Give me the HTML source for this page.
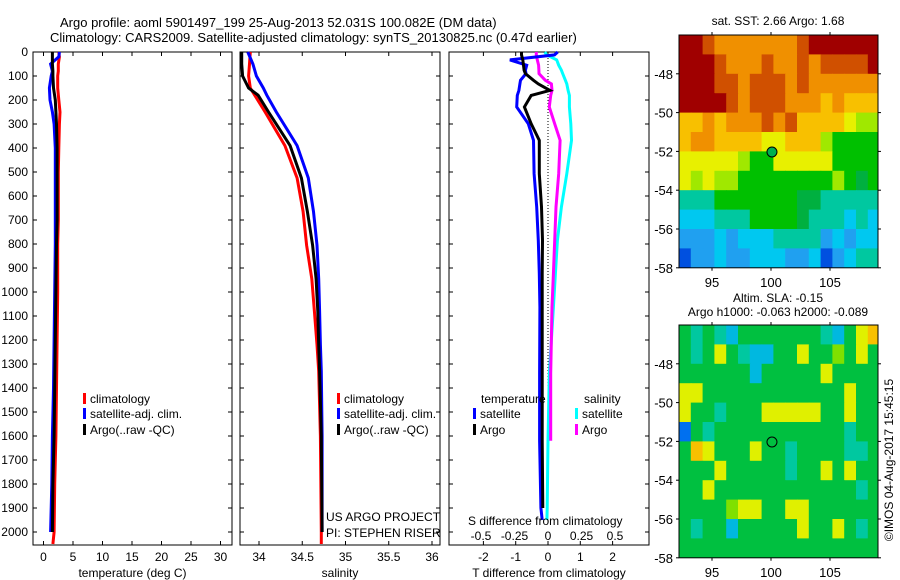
<!DOCTYPE html>
<html><head><meta charset="utf-8"><style>
html,body{margin:0;padding:0;background:#fff;}
svg{display:block;font-family:"Liberation Sans",sans-serif;}
text{font-size:12px;fill:#000;}
</style></head><body>
<svg id="c" width="900" height="580" viewBox="0 0 900 580">
<text x="60" y="27" style="font-size:13px">Argo profile: aoml 5901497_199 25-Aug-2013 52.031S 100.082E (DM data)</text>
<text x="50" y="42" style="font-size:13px">Climatology: CARS2009. Satellite-adjusted climatology: synTS_20130825.nc (0.47d earlier)</text>
<text x="778" y="25" text-anchor="middle">sat. SST: 2.66 Argo: 1.68</text>
<text x="778" y="302" text-anchor="middle">Altim. SLA: -0.15</text>
<text x="778" y="316" text-anchor="middle">Argo h1000: -0.063 h2000: -0.089</text>
<text transform="translate(893,460) rotate(-90)" text-anchor="middle">©IMOS 04-Aug-2017 15:45:15</text>
<text x="326" y="521">US ARGO PROJECT</text>
<text x="326" y="537">PI: STEPHEN RISER</text>
</svg>
<script>
// ---- profile data ----
const depths=[0,20,50,80,100,150,200,250,300,400,500,600,700,800,1000,1200,1400,1600,1800,2000,2050];
const tempClim=[2.6,2.7,2.5,2.5,2.4,2.4,2.6,2.8,2.7,2.6,2.5,2.5,2.5,2.4,2.4,2.3,2.2,2.1,1.9,1.8,1.6];
const tempSat=[2.7,2.6,1.2,1.5,1.3,1.0,1.1,1.5,1.8,2.0,2.0,2.0,2.0,2.0,1.9,1.8,1.7,1.5,1.4,1.2,null];
const tempArgo=[1.5,1.5,1.5,1.6,1.6,1.7,2.0,2.1,2.2,2.3,2.3,2.3,2.3,2.2,2.1,2.0,1.9,1.8,1.6,1.5,null];
const salDepths=[0,50,100,150,180,250,390,525,665,805,945,1080,1220,1330,1600,2000,2050];
const salClim=[33.9,33.89,33.88,33.9,33.95,34.07,34.30,34.44,34.51,34.55,34.61,34.64,34.67,34.69,34.71,34.72,34.72];
const salSat=[33.87,33.93,33.97,34.05,34.09,34.20,34.44,34.57,34.63,34.67,34.69,34.70,34.71,34.72,34.73,34.73,null];
const salArgo=[33.80,33.80,33.81,33.88,33.99,34.11,34.36,34.49,34.56,34.62,34.66,34.68,34.69,34.70,34.72,34.73,null];
const diffDepths=[0,12,33,55,76,90,118,133,160,181,229,299,368,507,646,785,924,1063,1340,1620,1900,1950];
const dTSat=[0.3,0.2,-1.18,-0.66,-0.7,-0.68,-0.85,-0.87,-0.9,-0.95,-0.97,-0.61,-0.45,-0.43,-0.35,-0.30,-0.27,-0.25,-0.26,-0.26,-0.22,-0.18];
const dTArgo=[-0.82,-0.82,-0.78,-0.76,-0.74,-0.7,-0.45,-0.3,0.06,-0.52,-0.73,-0.52,-0.27,-0.27,-0.2,-0.17,-0.18,-0.18,-0.18,-0.18,-0.16,null];
const dSArgo=[-0.087,-0.087,-0.08,-0.07,-0.068,-0.067,-0.02,0.025,0.03,0.02,0.01,0.05,0.09,0.08,0.06,0.05,0.04,0.03,0.02,0.02,null,null];
const dSSat=[-0.024,-0.01,0.065,0.08,0.1,0.11,0.13,0.14,0.15,0.16,0.16,0.17,0.175,0.14,0.1,0.07,0.055,0.04,0.01,0.0,-0.006,-0.008];
const depthTicks=[0,100,200,300,400,500,600,700,800,900,1000,1100,1200,1300,1400,1500,1600,1700,1800,1900,2000];
const tempTicks=[0,5,10,15,20,25,30];
const salTicks=[34,34.5,35,35.5,36];
const dTTicks=[-2,-1,0,1,2];
const dSTicks=[-0.5,-0.25,0,0.25,0.5];
// ---- map data (rows lat -46..-58, cols lon 92.2..) ----
const sstRows=["00122222221000000","00012221221211110","00011211121222222","00001211122232333","33232221213333455","32233334433356666","44444566444446666","45455666666665676","88866666667788888","99988866667888989","AAA9A9998888A9A99","BAA9AA999AA9BA988"];
const slaRows=["GTGTCGGGGGGGTCGYO","GTGYGTCCGGYGGLGYG","GGGGGGCGGGGGYGGGG","YYGGGGGGGGGGGGYGG","YGGTGGGYYYYYGGYGG","BGTGGGGGGGGGGGTGG","GOYGGGYGGTGGGGTTG","GGGYGGGGGTGGYGYGG","GGYGGGGGGGGGGGGTG","GGGGLYYGGYYGGGGGG","GTGGCGGGGGYGGYGTG","GGGGGGGGGGGGGGGGG"];
const latTicks=[-48,-50,-52,-54,-56,-58];
const lonTicks=[95,100,105];
const argoLon=100.082, argoLat=-52.031;

const S=document.getElementById('c'),NS='http://www.w3.org/2000/svg';
function mk(t,a,p){const e=document.createElementNS(NS,t);for(const k in a)e.setAttribute(k,a[k]);(p||S).appendChild(e);return e;}
const Y0=52,Y1=545,dy=d=>Y0+d*0.24;
const tx=v=>43.5+v*5.9, sx=v=>259+(v-34)*86.5, dtx=v=>548+v*32.3, dsx=v=>548+v*134;
function line(ds,vs,f,col,name){let p='';ds.forEach((d,i)=>{if(vs[i]==null)return;p+=(p?'L':'M')+f(vs[i]).toFixed(1)+','+dy(d).toFixed(1);});
 const e=mk('path',{d:p,fill:'none',stroke:col,'stroke-width':3});
 
 }
function panel(x0,x1,name,xt,xf,xlab,ylabels){
 const r=mk('rect',{x:x0,y:Y0,width:x1-x0,height:Y1-Y0,fill:'none',stroke:'#000','stroke-width':1});
 
 
 depthTicks.forEach(d=>{mk('line',{x1:x0,x2:x0+4,y1:dy(d),y2:dy(d),stroke:'#000'});mk('line',{x1:x1,x2:x1-4,y1:dy(d),y2:dy(d),stroke:'#000'});
  if(ylabels){const t=mk('text',{x:28,y:dy(d)+4,'text-anchor':'end'});t.textContent=d;
   
   }});
 xt.forEach(v=>{const x=xf(v);mk('line',{x1:x,x2:x,y1:Y1,y2:Y1-4,stroke:'#000'});mk('line',{x1:x,x2:x,y1:Y0,y2:Y0+4,stroke:'#000'});
  const t=mk('text',{x:x,y:561,'text-anchor':'middle'});t.textContent=v;
  
  });
 const t=mk('text',{x:(x0+x1)/2,y:577,'text-anchor':'middle'});t.textContent=xlab;
 
 
}
panel(33,232,'temperature-panel',tempTicks,tx,'temperature (deg C)',true);
panel(240,440,'salinity-panel',salTicks,sx,'salinity',false);
panel(449,649,'difference-panel',dTTicks,dtx,'T difference from climatology',false);
const dot=mk('line',{x1:548,x2:548,y1:Y0,y2:dy(1400),stroke:'#000','stroke-dasharray':'1,2'});


line(depths,tempClim,tx,'#f00','temp-climatology-line');
line(depths,tempSat,tx,'#00f','temp-satellite-line');
line(depths,tempArgo,tx,'#000','temp-argo-line');
line(salDepths,salClim,sx,'#f00','sal-climatology-line');
line(salDepths,salSat,sx,'#00f','sal-satellite-line');
line(salDepths,salArgo,sx,'#000','sal-argo-line');
line(diffDepths,dSSat,dsx,'#0ff','s-diff-satellite-line');
line(diffDepths,dSArgo,dsx,'#f0f','s-diff-argo-line');
line(diffDepths,dTSat,dtx,'#00f','t-diff-satellite-line');
line(diffDepths,dTArgo,dtx,'#000','t-diff-argo-line');
dSTicks.forEach(v=>{const t=mk('text',{x:dsx(v),y:540,'text-anchor':'middle'});t.textContent=v==0?'0':String(v).replace('0.','0.').replace('-0.','-0.');
 
 });
{const t=mk('text',{x:468,y:525});t.textContent='S difference from climatology';
 
 }
function leg(x,y,col,txt,name){mk('rect',{x:x,y:y-10,width:3,height:11,fill:col});const t=mk('text',{x:x+7,y:y});t.textContent=txt;
 
 }
[[83,'temp'],[337,'sal']].forEach(([x,n])=>{leg(x,403,'#f00','climatology',n+'-legend-climatology');leg(x,418,'#00f','satellite-adj. clim.',n+'-legend-satellite');leg(x,434,'#000','Argo(..raw -QC)',n+'-legend-argo');});
{const t=mk('text',{x:481,y:403});t.textContent='temperature';
 const u=mk('text',{x:584,y:403});u.textContent='salinity';}
leg(473,418,'#00f','satellite','diff-legend-t-satellite');leg(473,434,'#000','Argo','diff-legend-t-argo');
leg(575,418,'#0ff','satellite','diff-legend-s-satellite');leg(575,434,'#f0f','Argo','diff-legend-s-argo');
// ---- maps ----
const LX0=679,LX1=878,lonS=11.8,latS=19.4;
const lonx=l=>712+(l-95)*lonS;
const sstCol={'0':'#a00000','1':'#d05000','2':'#f09000','3':'#f8c000','4':'#e8f000','5':'#a0e800','6':'#00c000','7':'#00b040','8':'#00c8a0','9':'#00c8f0','A':'#20a0f0','B':'#0050e0','C':'#0020a0'};
const slaCol={'G':'#00c040','L':'#80e000','Y':'#e0f000','O':'#f8c000','T':'#00c8a0','C':'#00b8e0','B':'#0070f0'};
function map(yTop,rows,cm,name){const laty=l=>yTop+(-46-l)*latS;const yb=laty(-58);
 const g=mk('g',{});
 const cp=mk('clipPath',{id:name+'-clip'},g);mk('rect',{x:LX0,y:yTop,width:LX1-LX0,height:yb-yTop},cp);
 const cg=mk('g',{'clip-path':'url(#'+name+'-clip)'},g);
 rows.forEach((r,i)=>{for(let j=0;j<r.length;j++){const lon=92.2+j,lat=-46-i;const x=lonx(lon),y=laty(lat);
  const c=mk('rect',{x:x.toFixed(1),y:y.toFixed(1),width:lonS+0.6,height:latS+0.6,fill:cm[r[j]]},cg);
  
  }});
 mk('rect',{x:LX0,y:yTop,width:LX1-LX0,height:yb-yTop,fill:'none',stroke:'#000'},g);
 latTicks.forEach(l=>{const y=laty(l);mk('line',{x1:LX0,x2:LX0-3,y1:y,y2:y,stroke:'#000'},g);mk('line',{x1:LX1,x2:LX1+3,y1:y,y2:y,stroke:'#000'},g);
  const t=mk('text',{x:673,y:y+5,'text-anchor':'end',style:'font-size:13px'},g);t.textContent=l;});
 lonTicks.forEach(l=>{const x=lonx(l);mk('line',{x1:x,x2:x,y1:yTop,y2:yTop-3,stroke:'#000'},g);mk('line',{x1:x,x2:x,y1:yb,y2:yb+3,stroke:'#000'},g);
  const t=mk('text',{x:x,y:yb+19,'text-anchor':'middle',style:'font-size:13px'},g);t.textContent=l;});
 const m=mk('circle',{cx:lonx(argoLon),cy:laty(argoLat),r:5,fill:name=='sst-map'?'#00b050':'none',stroke:'#000'},g);
 
 
}
map(35,sstRows,sstCol,'sst-map');
map(325,slaRows,slaCol,'sla-map');
</script>
</body></html>
